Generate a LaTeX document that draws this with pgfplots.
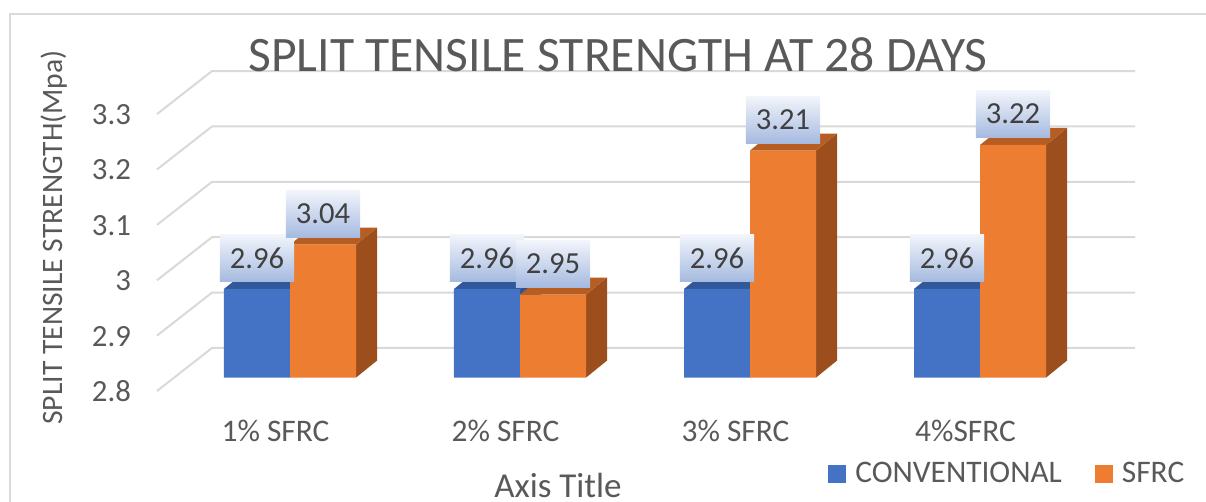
\documentclass[border=0pt]{standalone}
\usepackage{pgfplots}
\pgfplotsset{compat=1.18}
\usepackage{pgfplotstable}
\usepackage{fontspec}
\setmainfont{Carlito}

\definecolor{blueC}{HTML}{4472C4}
\definecolor{blueTop}{HTML}{30589A}
\definecolor{blueSide}{HTML}{2E5390}
\definecolor{orangeC}{HTML}{ED7D31}
\definecolor{orangeSide}{HTML}{9C4F1D}
\definecolor{orangeTop}{HTML}{B55D22}
\definecolor{txt}{HTML}{595959}
\definecolor{lbltxt}{HTML}{404040}
\definecolor{lblTop}{HTML}{F2F5FB}
\definecolor{lblBot}{HTML}{A5BAE0}
\definecolor{gridc}{HTML}{D9D9D9}

\pgfplotstableread{
x conv sfrc
0 2.96 3.04
1 2.96 2.95
2 2.96 3.21
3 2.96 3.22
}\datatable

\newcommand\hw{0.1435}
\newcommand\ddx{0.0913}
\newcommand\ddy{0.0307}

% 3D side and top faces of a bar: #1 centre, #2 value, #3 top colour, #4 side colour
\newcommand\barfaces[4]{%
  \pgfmathsetmacro\xl{#1-\hw}%
  \pgfmathsetmacro\xr{#1+\hw}%
  \pgfmathsetmacro\xlb{#1-\hw+\ddx}%
  \pgfmathsetmacro\xrb{#1+\hw+\ddx}%
  \pgfmathsetmacro\vb{#2+\ddy}%
  \pgfmathsetmacro\bb{2.8+\ddy}%
  \edef\tmp{%
    \noexpand\fill[#4] (axis cs:\xr,2.8) -- (axis cs:\xrb,\bb) -- (axis cs:\xrb,\vb) -- (axis cs:\xr,#2) -- cycle;
    \noexpand\fill[#3] (axis cs:\xl,#2) -- (axis cs:\xlb,\vb) -- (axis cs:\xrb,\vb) -- (axis cs:\xr,#2) -- cycle;
  }\tmp}

% gridline: front edge of the left wall, then the back wall
\newcommand\gridline[1]{%
  \pgfmathsetmacro\gf{#1-0.0242}%
  \pgfmathsetmacro\gb{#1+0.0535}%
  \edef\tmp{%
    \noexpand\draw[gridc, line width=1pt] (axis cs:-0.5783,\gf) -- (axis cs:-0.3391,\gb) -- (axis cs:3.6739,\gb);
  }\tmp}

\tikzset{lbl/.style={anchor=south, yshift=3.5pt, font=\fontsize{15.3}{18}\selectfont,
  text=lbltxt, top color=lblTop, bottom color=lblBot, inner xsep=5pt, inner ysep=0pt,
  minimum height=23.5pt}}

\begin{document}
\begin{tikzpicture}
\path[use as bounding box] (0,0) rectangle (603pt,251pt);
\begin{axis}[
  at={(78.5pt,62.2pt)}, anchor=south west,
  scale only axis, width=489pt, height=180pt,
  xmin=-0.5783, xmax=3.6739, ymin=2.8, ymax=3.45,
  clip mode=individual,
  axis line style={draw=none}, tick style={draw=none},
  /pgf/number format/assume math mode=true,
  xtick={0,1,2,3},
  xticklabels={1\% SFRC, 2\% SFRC, 3\% SFRC, 4\%SFRC},
  ytick={2.8,2.9,3,3.1,3.2,3.3},
  xticklabel style={anchor=base, yshift=-32.2pt, xshift=-7.25pt, font=\fontsize{15.7}{18}\selectfont, text=txt},
  yticklabel style={anchor=east, xshift=-9.5pt, yshift=-7pt, font=\fontsize{15.4}{18}\selectfont, text=txt},
  title={SPLIT TENSILE STRENGTH AT 28 DAYS},
  title style={at={(axis description cs:0.4714,0.8183)}, anchor=base, font=\fontsize{24.8}{29}\selectfont, text=txt},
  ylabel={SPLIT TENSILE STRENGTH(Mpa)},
  ylabel style={at={(axis description cs:-0.0971,0.389)}, anchor=base, font=\fontsize{14.8}{18}\selectfont, text=txt},
  xlabel={Axis Title},
  xlabel style={at={(axis description cs:0.41,-0.3317)}, anchor=base, font=\fontsize{17.5}{21}\selectfont, text=txt},
  legend columns=2,
  legend cell align=left,
  legend style={at={(axis description cs:0.686,-0.268)}, anchor=west, draw=none, fill=none,
    inner sep=0pt, font=\fontsize{15.7}{18}\selectfont, text=txt,
    nodes={inner sep=0pt},
    /tikz/every odd column/.append style={column sep=4.5pt},
    /tikz/every even column/.append style={column sep=16.5pt}},
]
\gridline{2.8}\gridline{2.9}\gridline{3.0}\gridline{3.1}\gridline{3.2}\gridline{3.3}

\pgfplotsinvokeforeach{0,1,2,3}{
  \pgfplotstablegetelem{#1}{conv}\of\datatable
  \let\cv\pgfplotsretval
  \barfaces{#1-\hw}{\cv}{blueTop}{blueSide}
}
\pgfplotsinvokeforeach{0,1,2,3}{
  \pgfplotstablegetelem{#1}{sfrc}\of\datatable
  \let\sv\pgfplotsretval
  \barfaces{#1+\hw}{\sv}{orangeTop}{orangeSide}
}

\addplot[ybar, bar width=0.287, bar shift=-0.1435, fill=blueC, draw=none,
  legend image code/.code={\fill[blueC] (0pt,-4.5pt) rectangle (9pt,4.5pt);}]
  table[x=x, y=conv]{\datatable};
\addlegendentry{CONVENTIONAL}
\addplot[ybar, bar width=0.287, bar shift=0.1435, fill=orangeC, draw=none,
  legend image code/.code={\fill[orangeC] (0pt,-4.5pt) rectangle (9pt,4.5pt);}]
  table[x=x, y=sfrc]{\datatable};
\addlegendentry{SFRC}

% data labels, drawn last so that they lie over the bars
\addplot[draw=none, mark=none, forget plot,
  nodes near coords, every node near coord/.append style={lbl}]
  table[x expr=\thisrow{x}-0.1435, y=conv]{\datatable};
\addplot[draw=none, mark=none, forget plot,
  nodes near coords, every node near coord/.append style={lbl}]
  table[x expr=\thisrow{x}+0.1435, y=sfrc]{\datatable};
\end{axis}
\draw[gridc, line width=0.75pt] (5pt,0pt) -- (5pt,244pt) -- (603pt,244pt);
\end{tikzpicture}
\end{document}
